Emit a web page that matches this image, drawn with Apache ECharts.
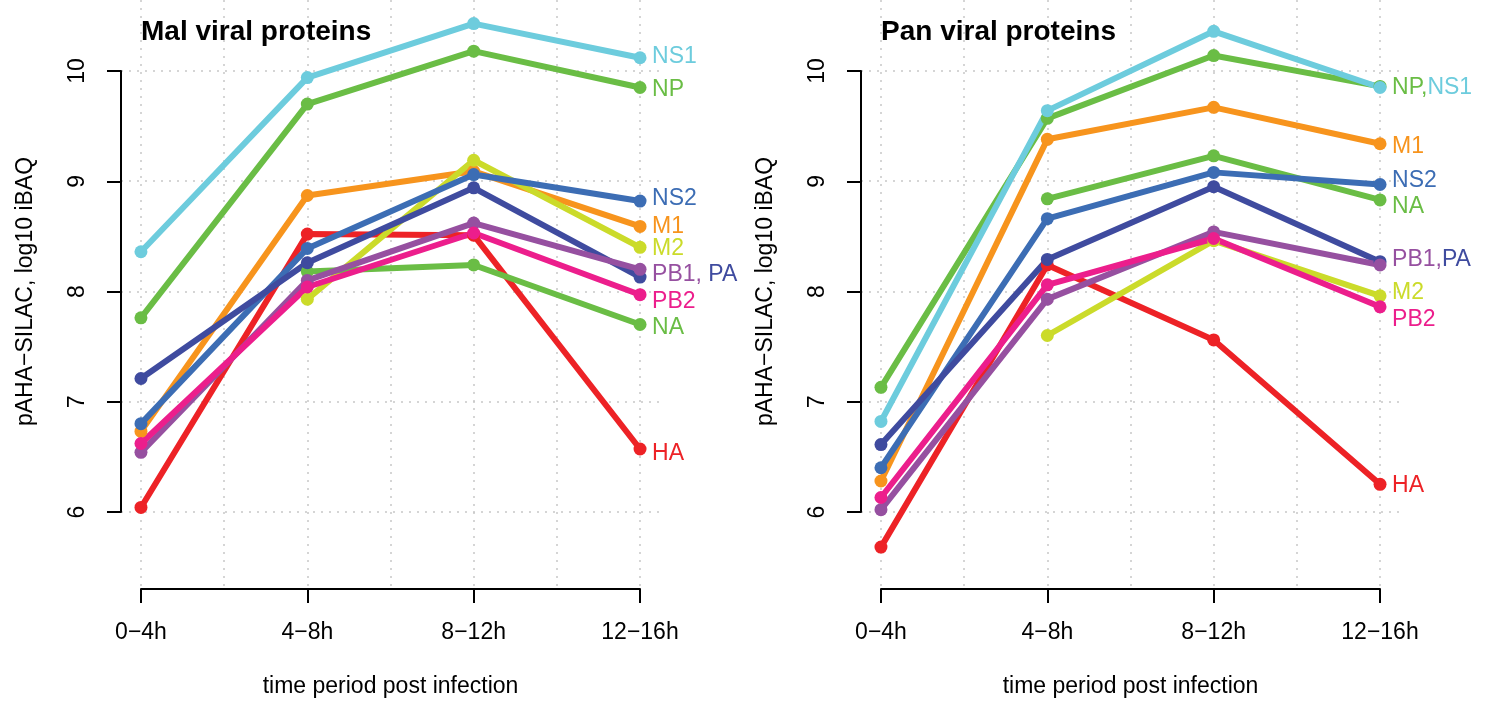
<!DOCTYPE html>
<html>
<head>
<meta charset="utf-8">
<script src="https://cdn.jsdelivr.net/npm/echarts@6/dist/echarts.min.js"></script>
<style>
html, body { margin: 0; padding: 0; background: #fff; }
#chart { width: 1494px; height: 706px; }
</style>
</head>
<body>
<div id="chart"></div>
<script>
var categories = ['0\u22124h', '4\u22128h', '8\u221212h', '12\u221216h'];
var yTicks = [6, 7, 8, 9, 10];
var proteins = ['HA', 'M1', 'M2', 'NA', 'NP', 'NS1', 'NS2', 'PA', 'PB1', 'PB2'];

// Mal, log10 iBAQ per time period
var malHA  = [6.04, 8.52, 8.51, 6.57];
var malM1  = [6.73, 8.87, 9.09, 8.59];
var malM2  = [null, 7.93, 9.19, 8.40];
var malNA  = [null, 8.18, 8.24, 7.70];
var malNP  = [7.76, 9.70, 10.18, 9.85];
var malNS1 = [8.36, 9.94, 10.43, 10.12];
var malNS2 = [6.80, 8.39, 9.06, 8.82];
var malPA  = [7.21, 8.26, 8.94, 8.13];
var malPB1 = [6.54, 8.10, 8.62, 8.20];
var malPB2 = [6.62, 8.04, 8.53, 7.97];

// Pan
var panHA  = [5.68, 8.24, 7.56, 6.25];
var panM1  = [6.28, 9.38, 9.67, 9.34];
var panM2  = [null, 7.60, 8.46, 7.96];
var panNA  = [null, 8.84, 9.23, 8.83];
var panNP  = [7.13, 9.57, 10.14, 9.86];
var panNS1 = [6.82, 9.64, 10.36, 9.85];
var panNS2 = [6.40, 8.66, 9.08, 8.97];
var panPA  = [6.61, 8.29, 8.95, 8.27];
var panPB1 = [6.02, 7.93, 8.54, 8.24];
var panPB2 = [6.13, 8.06, 8.48, 7.86];

var FONT = '"Liberation Sans", Arial, Helvetica, sans-serif';

var colors = {
    HA: '#ed2226', M1: '#f7941d', M2: '#cbdb2a', NA: '#6abd45', NP: '#6abd45',
    NS1: '#6dccdd', NS2: '#3c6db4', PA: '#3f4b9f', PB1: '#9650a0', PB2: '#ec1e8c'
};

var rich = {
    pb1: {color: colors.PB1, fontSize: 23, fontFamily: FONT},
    pa: {color: colors.PA, fontSize: 23, fontFamily: FONT},
    np: {color: colors.NP, fontSize: 23, fontFamily: FONT},
    ns1: {color: colors.NS1, fontSize: 23, fontFamily: FONT}
};

var malLabels = {HA: 'HA', M1: 'M1', M2: 'M2', NA: 'NA', NP: 'NP', NS1: 'NS1', NS2: 'NS2',
    PA: '', PB1: '{pb1|PB1,} {pa|PA}', PB2: 'PB2'};
var panLabels = {HA: 'HA', M1: 'M1', M2: 'M2', NA: 'NA', NP: '{np|NP,}{ns1|NS1}', NS1: '', NS2: 'NS2',
    PA: '', PB1: '{pb1|PB1,}{pa|PA}', PB2: 'PB2'};
var malLabelDy = {HA: 5, M1: 0, M2: 1, NA: 3, NP: 2, NS1: -1, NS2: -2, PB1: 5, PB2: 7};
var panLabelDy = {HA: 1, M1: 3, M2: -3, NA: 7, NP: 1, NS2: -4, PB1: -5, PB2: 13};

var malValues = {HA: malHA, M1: malM1, M2: malM2, NA: malNA, NP: malNP,
    NS1: malNS1, NS2: malNS2, PA: malPA, PB1: malPB1, PB2: malPB2};
var panValues = {HA: panHA, M1: panM1, M2: panM2, NA: panNA, NP: panNP,
    NS1: panNS1, NS2: panNS2, PA: panPA, PB1: panPB1, PB2: panPB2};

var gridDots = {color: '#c8c8c8', width: 1.5, type: [2, 6]};
var halfSteps = [0, 0.5, 1, 1.5, 2, 2.5, 3];

function panelSeries(values, axisIndex, labels, dy) {
    return proteins.map(function (p) {
        return {
            name: p,
            type: 'line',
            xAxisIndex: axisIndex,
            yAxisIndex: axisIndex,
            data: values[p].map(function (v, i) { return [i, v]; }),
            symbol: 'circle',
            symbolSize: 13,
            showAllSymbol: true,
            clip: false,
            lineStyle: {width: 6, color: colors[p], cap: 'round'},
            itemStyle: {color: colors[p]},
            endLabel: {
                show: !!labels[p],
                formatter: labels[p] || '',
                distance: 12,
                offset: [0, dy[p] || 0],
                color: colors[p],
                fontSize: 23,
                fontFamily: FONT,
                rich: rich
            },
            emphasis: {disabled: true}
        };
    });
}

// each panel: data grid, x axis grid, y axis grid
function panelGrids(dx) {
    return [
        {left: 121 + dx, width: 539, top: 0, height: 589},
        {left: 141 + dx, width: 499, top: 579, height: 10},
        {left: 121 + dx, width: 10, top: 71, height: 441}
    ];
}

function panelXAxes(g) {
    return [
        {
            type: 'value', gridIndex: g, min: -0.12, max: 3.12,
            axisLine: {show: false},
            axisTick: {show: false, customValues: halfSteps},
            axisLabel: {show: false},
            splitLine: {show: true, lineStyle: gridDots}
        },
        {
            type: 'category', gridIndex: g + 1, data: categories, boundaryGap: false,
            axisLine: {lineStyle: {color: '#000', width: 2}},
            axisTick: {length: 14, interval: 0, lineStyle: {color: '#000', width: 2}},
            axisLabel: {interval: 0, margin: 32, fontSize: 23, color: '#000', fontFamily: FONT},
            name: 'time period post infection',
            nameLocation: 'middle',
            nameGap: 86,
            nameTextStyle: {fontSize: 23, color: '#000', fontFamily: FONT}
        },
        {type: 'value', gridIndex: g + 2, show: false}
    ];
}

function panelYAxes(g) {
    return [
        {
            type: 'value', gridIndex: g, min: 5.3, max: 10.644,
            axisLine: {show: false},
            axisTick: {show: false, customValues: yTicks},
            axisLabel: {show: false},
            splitLine: {show: true, lineStyle: gridDots}
        },
        {type: 'value', gridIndex: g + 1, show: false},
        {
            type: 'value', gridIndex: g + 2, min: 6, max: 10, interval: 1,
            axisLine: {show: true, lineStyle: {color: '#000', width: 2}},
            axisTick: {show: true, length: 14, lineStyle: {color: '#000', width: 2}},
            axisLabel: {rotate: 90, margin: 32, fontSize: 23, color: '#000', fontFamily: FONT},
            splitLine: {show: false},
            name: 'pAHA\u2212SILAC, log10 iBAQ',
            nameLocation: 'middle',
            nameGap: 84,
            nameTextStyle: {fontSize: 23, color: '#000', fontFamily: FONT}
        }
    ];
}

var myChart = echarts.init(document.getElementById('chart'), null, {renderer: 'canvas'});
var option = {
    animation: false,
    backgroundColor: '#fff',
    title: [
        {text: 'Mal viral proteins', left: 136, top: 13,
            textStyle: {fontSize: 28, fontWeight: 'bold', color: '#000', fontFamily: FONT}},
        {text: 'Pan viral proteins', left: 876, top: 13,
            textStyle: {fontSize: 28, fontWeight: 'bold', color: '#000', fontFamily: FONT}}
    ],
    grid: panelGrids(0).concat(panelGrids(740)),
    xAxis: panelXAxes(0).concat(panelXAxes(3)),
    yAxis: panelYAxes(0).concat(panelYAxes(3)),
    series: panelSeries(malValues, 0, malLabels, malLabelDy)
        .concat(panelSeries(panValues, 3, panLabels, panLabelDy))
};
myChart.setOption(option);
</script>
</body>
</html>
